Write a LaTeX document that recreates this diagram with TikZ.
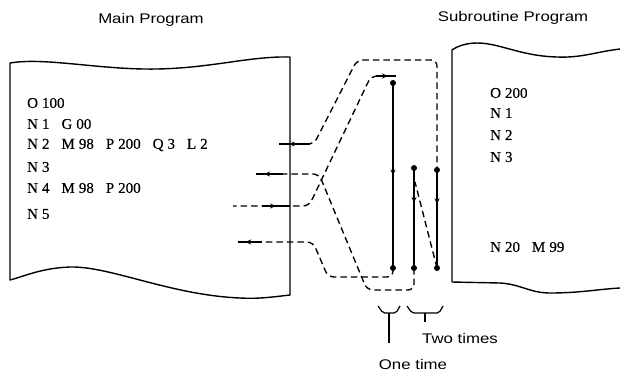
\documentclass[tikz,border=0pt]{standalone}
\usepackage{fontspec}
\setmainfont{Liberation Serif}
\newfontfamily\codefont[FakeBold=0.5]{Liberation Serif}
\newfontfamily\lblfont[FakeStretch=1.2]{Liberation Sans}
\usetikzlibrary{arrows.meta,decorations.markings}
\newcommand\cw[2]{#1\hspace{4pt}#2}
\newcommand\gsp{\hspace{12pt}}
\tikzset{
  box/.style={line width=1.4pt, line join=round},
  route/.style={line width=1.35pt, dash pattern=on 6.5pt off 4pt, rounded corners=6pt},
  runline/.style={line width=1.6pt},
  stub/.style={line width=1.4pt},
  dotmark/.style={circle, fill, inner sep=0pt, minimum size=6pt},
  lbl/.style={font=\lblfont\fontsize{14}{16}\selectfont, inner sep=0pt},
  code/.style={font=\codefont\fontsize{15}{17}\selectfont, anchor=west, inner sep=0pt},
  midarrow/.style={postaction={decorate}, decoration={markings, mark=at position #1 with {\arrow{Stealth[length=6pt,width=5pt]}}}},
  brace/.style={line width=1.2pt, rounded corners=2pt}
}
\begin{document}
\begin{tikzpicture}[x=1pt,y=-1pt]
\useasboundingbox (0,0) rectangle (620,373);
% titles
\node[lbl] (tmain) at (151,20) {Main Program};
\node[lbl] (tsub) at (513,18) {Subroutine Program};
% main program sheet
\draw[box] (10,63) .. controls (45,57) and (100,70) .. (157,69)
  .. controls (212,68) and (250,56) .. (290,57) -- (290,295)
  .. controls (272,297) and (260,299) .. (240,298)
  .. controls (170,295) and (110,266) .. (70,267)
  .. controls (42,268) and (25,276) .. (10,280) -- cycle;
% subroutine sheet (open on the right)
\draw[box] (620,49) .. controls (595,52) and (582,58) .. (557,57)
  .. controls (520,56) and (500,43) .. (477,43)
  .. controls (465,43) and (456,47) .. (452,50) -- (452,282)
  -- (500,283) .. controls (520,284) and (530,293) .. (550,293)
  .. controls (580,293) and (600,289) .. (620,288);
% main program text
\node[code] (m0) at (27,103) {\cw{O}{100}};
\node[code] (m1) at (27,124) {\cw{N}{1}\gsp\cw{G}{00}};
\node[code] (m2) at (27,145) {\cw{N}{2}\gsp\cw{M}{98}\gsp\cw{P}{200}\gsp\cw{Q}{3}\gsp\cw{L}{2}};
\node[code] (m3) at (27,167) {\cw{N}{3}};
\node[code] (m4) at (27,188) {\cw{N}{4}\gsp\cw{M}{98}\gsp\cw{P}{200}};
\node[code] (m5) at (27,214) {\cw{N}{5}};
% subroutine text
\node[code] (s0) at (490,93) {\cw{O}{200}};
\node[code] (s1) at (490,113) {\cw{N}{1}};
\node[code] (s2) at (490,135) {\cw{N}{2}};
\node[code] (s3) at (490,157) {\cw{N}{3}};
\node[code] (s4) at (490,247) {\cw{N}{20}\gsp\cw{M}{99}};
% execution lines
\node[dotmark] (t1) at (393,83) {};
\node[dotmark] (b1) at (393,268) {};
\node[dotmark] (t2) at (414,168) {};
\node[dotmark] (b2) at (414,268) {};
\node[dotmark] (t3) at (437,170) {};
\node[dotmark] (b3) at (437,268) {};
\draw[runline, midarrow=0.5] (t1.center) -- (b1.center);
\draw[runline, midarrow=0.35] (t2.center) -- (b2.center);
\draw[runline, midarrow=0.35] (t3.center) -- (b3.center);
% stub coordinates
\coordinate (a1) at (279,144);
\coordinate (a0) at (310,144);
\coordinate (c0) at (283,174);
\coordinate (c1) at (256,174);
\coordinate (e0) at (233,206);
\coordinate (e1) at (262,206);
\coordinate (e2) at (290,206);
\coordinate (d0) at (238,242);
\coordinate (d1) at (262,242);
\coordinate (bt) at (396,76);
\coordinate (bs) at (376,76);
\coordinate (r2) at (415,182);
% dashed routes
\draw[route] (a0) -- (314,144) -- (357,60) -- (437,60) -- (t3.center);
\draw[route] (b2.center) -- (414,290) -- (367,290) -- (319,174) -- (c0);
\draw[route] (bs) -- (371,76) -- (309,206) -- (e0);
\draw[route] (b1.center) -- (393,277) -- (328,277) -- (313,242) -- (d0);
\draw[route] (b3.center) -- (r2);
% solid arrow stubs
\draw[stub, midarrow=0.6] (a1) -- (a0);
\draw[stub, midarrow=0.7] (c0) -- (c1);
\draw[stub, midarrow=0.5] (e1) -- (e2);
\draw[stub, midarrow=0.7] (d1) -- (d0);
\draw[stub, midarrow=0.6] (bs) -- (bt);
% braces
\draw[brace] (378,306) -- (383,313) -- (396,313) -- (400,306);
\draw[brace] (389,313) -- (389,343);
\draw[brace] (407,306) -- (412,313) -- (439,313) -- (443,306);
\draw[brace] (425,313) -- (425,322);
\node[lbl] (one) at (413,364) {One time};
\node[lbl] (two) at (460,338) {Two times};
\end{tikzpicture}
\end{document}
